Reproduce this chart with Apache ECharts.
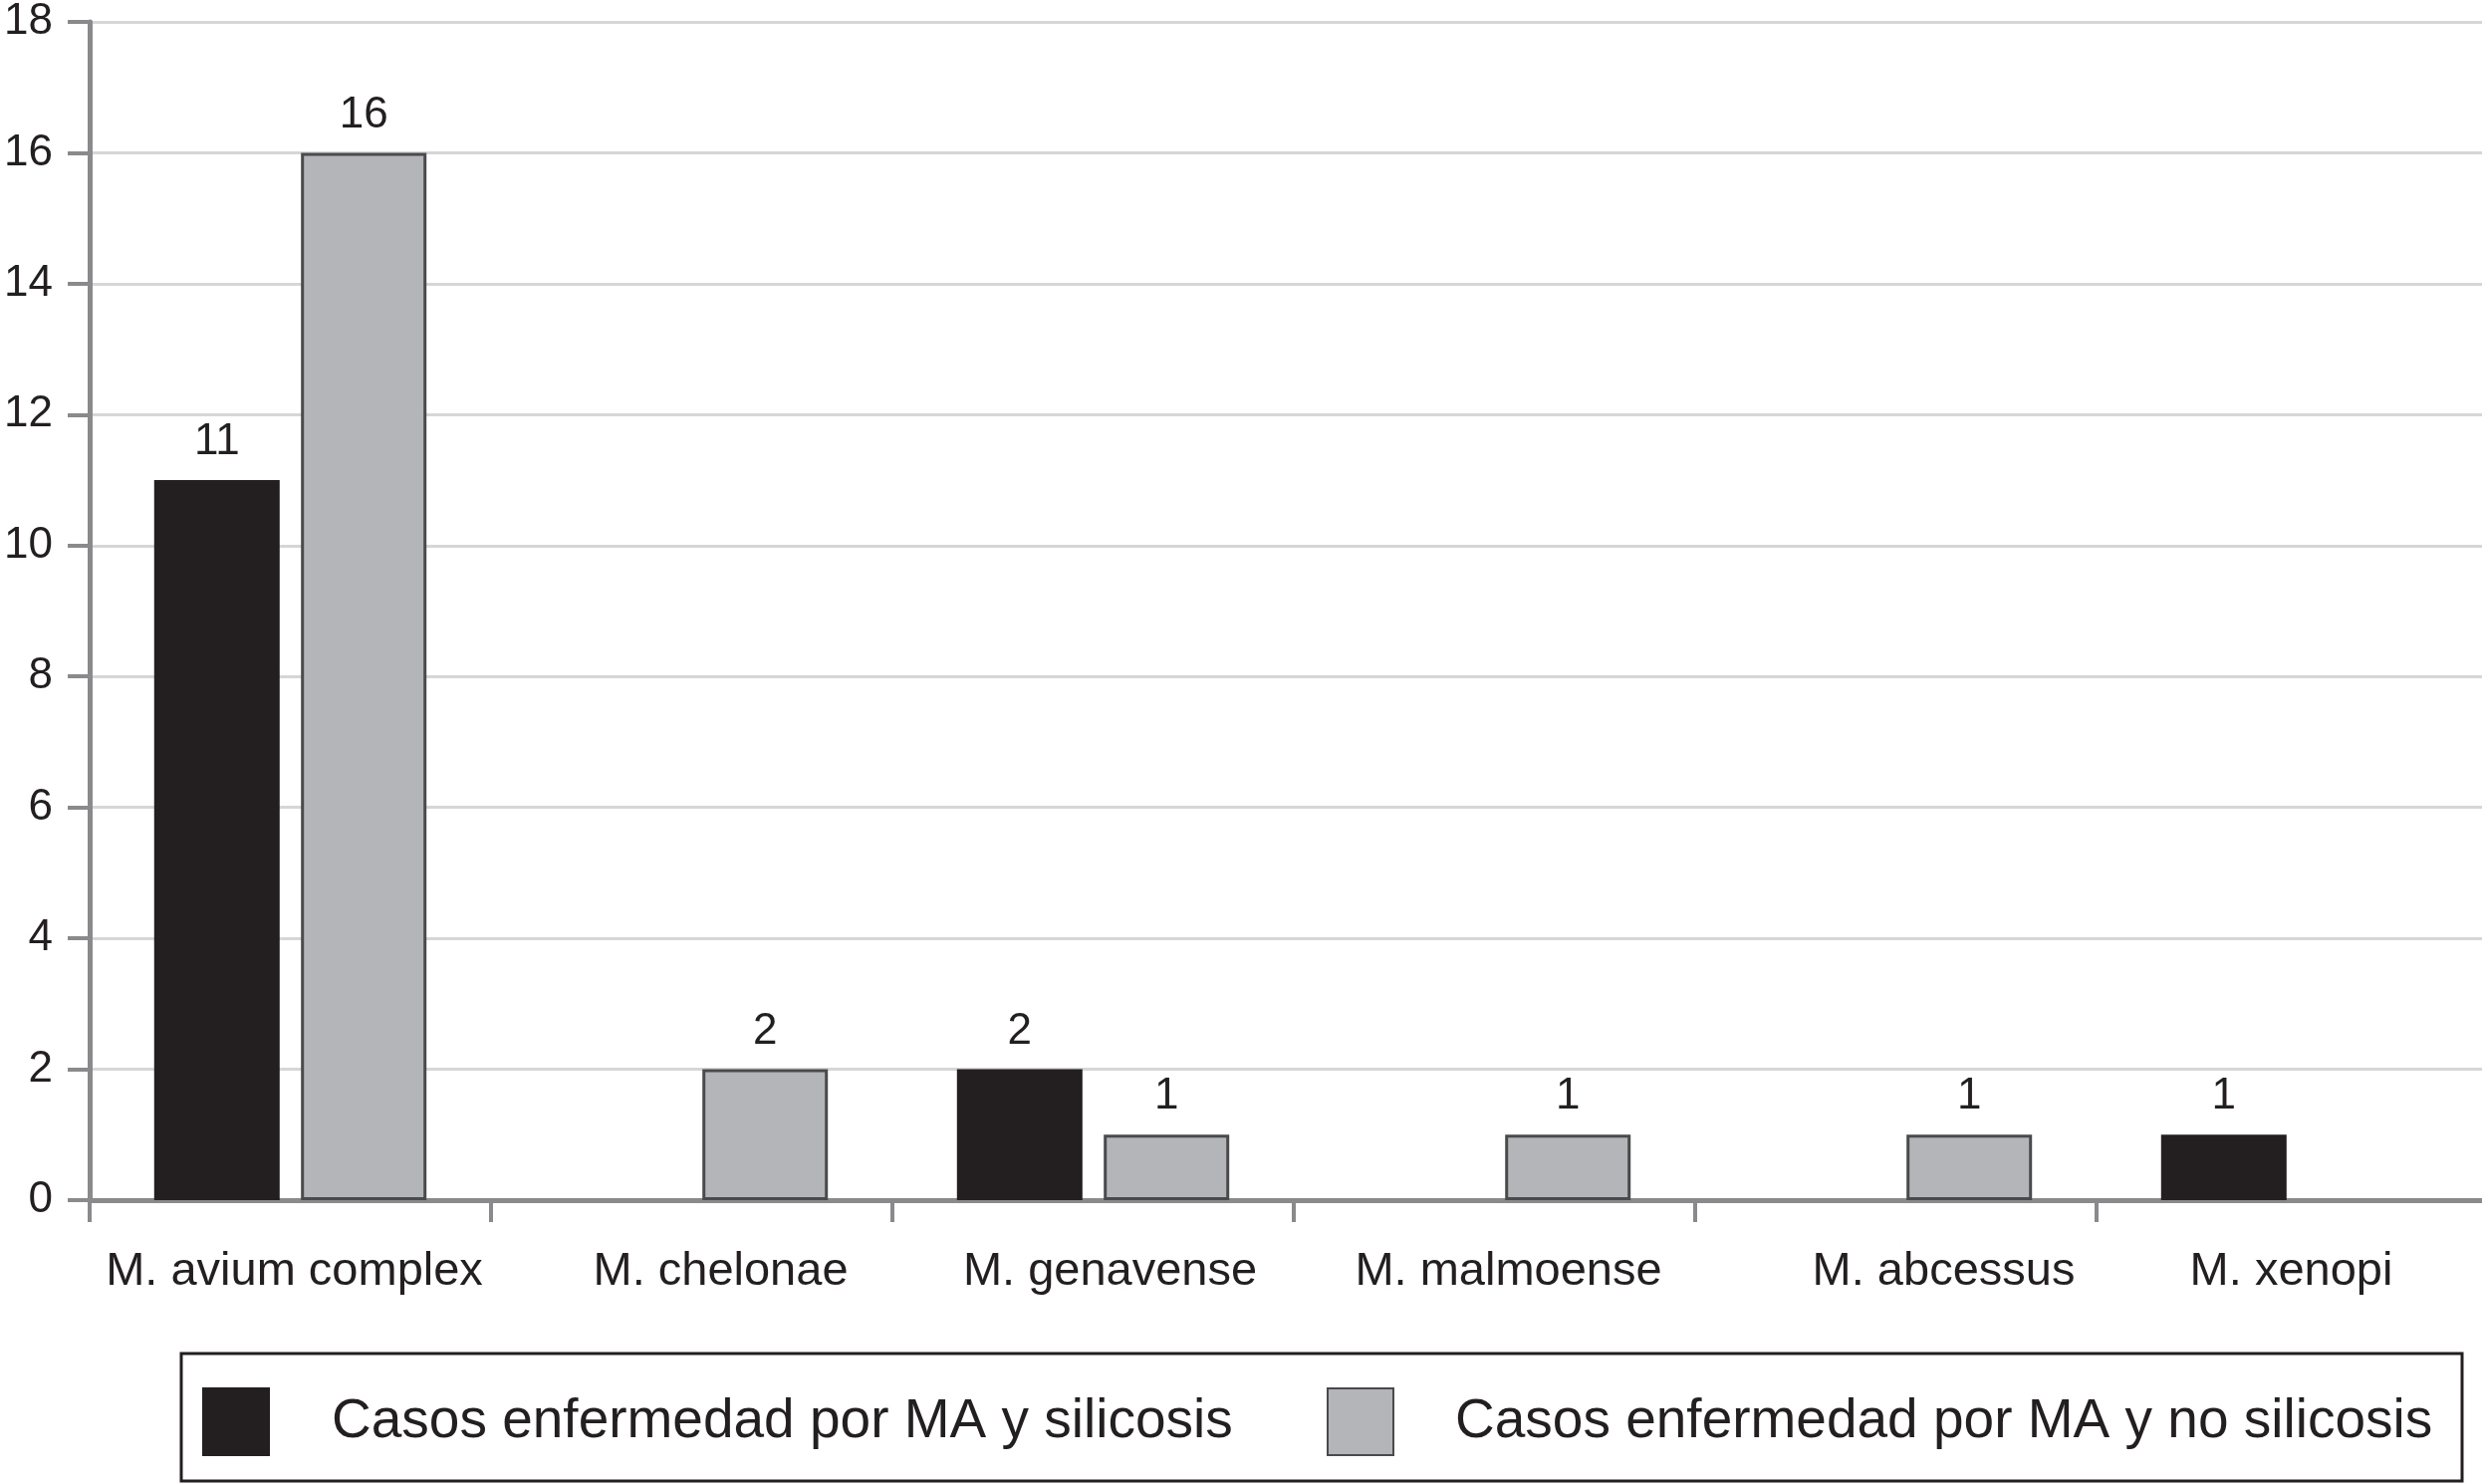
<!DOCTYPE html>
<html>
<head>
<meta charset="utf-8">
<script src="https://cdn.jsdelivr.net/npm/echarts@6/dist/echarts.min.js"></script>
<style>
html,body{margin:0;padding:0;background:#fff;}
#chart{width:2492px;height:1490px;}
</style>
</head>
<body>
<div id="chart"></div>
<script>
const categories = ['M. avium complex', 'M. chelonae', 'M. genavense', 'M. malmoense', 'M. abcessus', 'M. xenopi'];
const seriesNames = ['Casos enfermedad por MA y silicosis', 'Casos enfermedad por MA y no silicosis'];
const silicosis = [11, null, 2, null, null, 1];
const noSilicosis = [16, 2, 1, 1, 1, null];
const yTicks = { min: 0, max: 18, interval: 2 };

const FONT = '"Liberation Sans", Arial, Helvetica, sans-serif';
const TXT = '#231f20';
const chart = echarts.init(document.getElementById('chart'));

// horizontal nudges of the category labels (layout only)
const labelShift = [4, 29, 17, 14, 48, -6];
const rich = {};
labelShift.forEach(function (s, i) {
  rich['c' + i] = {
    color: TXT, fontSize: 47, fontFamily: FONT,
    padding: s >= 0 ? [0, 0, 0, 2 * s] : [0, -2 * s, 0, 0]
  };
});

const labelCfg = {
  show: true, position: 'top', distance: 16,
  color: TXT, fontSize: 44, fontFamily: FONT
};

chart.setOption({
  backgroundColor: '#ffffff',
  animation: false,
  grid: { left: 90, top: 22, width: 2418, height: 1183, outerBoundsMode: 'none', containLabel: false },
  xAxis: {
    type: 'category',
    data: categories,
    axisLine: { lineStyle: { color: '#8a8a8c', width: 5 } },
    axisTick: { show: true, length: 22, lineStyle: { color: '#8a8a8c', width: 4 } },
    axisLabel: {
      interval: 0, margin: 49, color: TXT, fontSize: 47, fontFamily: FONT,
      formatter: function (v, i) { return '{c' + i + '|' + v + '}'; },
      rich: rich
    },
    splitLine: { show: false }
  },
  yAxis: {
    type: 'value',
    min: yTicks.min, max: yTicks.max, interval: yTicks.interval,
    axisLine: { show: true, lineStyle: { color: '#8a8a8c', width: 5 } },
    axisTick: { show: true, length: 22, lineStyle: { color: '#8a8a8c', width: 4 } },
    axisLabel: { margin: 37, color: TXT, fontSize: 44, fontFamily: FONT },
    splitLine: { show: true, lineStyle: { color: '#d6d6d8', width: 3 } }
  },
  legend: [
    {
      data: [seriesNames[0]], left: 203, top: 1393, padding: 0,
      icon: 'rect', itemWidth: 68, itemHeight: 69,
      textStyle: { color: TXT, fontSize: 55, fontFamily: FONT, padding: [0, 0, 0, 57] }
    },
    {
      data: [seriesNames[1]], left: 1332, top: 1393, padding: 0,
      icon: 'rect', itemWidth: 66, itemHeight: 67,
      textStyle: { color: TXT, fontSize: 55, fontFamily: FONT, padding: [0, 0, 0, 57] }
    }
  ],
  graphic: [
    {
      type: 'rect', silent: true,
      shape: { x: 182, y: 1359, width: 2290, height: 128 },
      style: { fill: 'none', stroke: '#231f20', lineWidth: 3 }
    }
  ],
  series: [
    {
      name: seriesNames[0], type: 'bar', data: silicosis,
      barWidth: 126, barGap: '17%',
      itemStyle: { color: '#231f20', borderColor: '#231f20', borderWidth: 0 },
      label: labelCfg
    },
    {
      name: seriesNames[1], type: 'bar', data: noSilicosis,
      barWidth: 126, barGap: '17%',
      itemStyle: { color: '#b4b5b8', borderColor: '#4a4a4c', borderWidth: 3 },
      label: labelCfg
    }
  ]
});
</script>
</body>
</html>
